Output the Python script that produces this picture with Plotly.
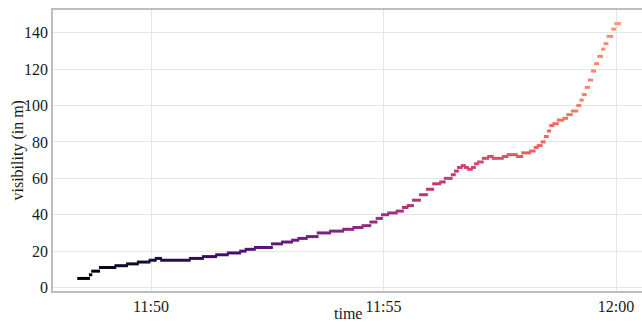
import pandas as pd
import plotly.graph_objects as go
from plotly.colors import sample_colorscale

# Visibility readings: each reading holds from start to end (seconds after 11:48:00)
start_s = [26, 41, 44, 54, 74, 89, 103, 118, 126, 133, 170, 187, 204, 219, 235, 242,
           254, 276, 289, 302, 310, 321, 335, 351, 368, 381, 393, 403, 411, 418, 426,
           437, 445, 451, 458, 467, 476, 484, 493, 499, 508, 512, 516, 521, 525, 529,
           534, 538, 542, 548, 555, 561, 574, 580, 592, 599, 609, 615, 619, 624, 628,
           632, 635, 639, 645, 652, 657, 663, 670, 674, 677, 681, 685, 689, 693, 697,
           702, 705, 709, 715, 719]
end_s = [40, 43, 53, 74, 89, 103, 118, 126, 133, 170, 187, 204, 219, 235, 242, 254,
         276, 289, 302, 310, 321, 335, 351, 368, 381, 393, 403, 411, 418, 426, 437,
         445, 451, 458, 467, 476, 484, 493, 499, 508, 512, 516, 521, 525, 529, 534,
         538, 542, 548, 555, 561, 574, 580, 592, 599, 609, 615, 619, 624, 628, 632,
         635, 639, 645, 652, 657, 663, 670, 674, 677, 681, 685, 689, 693, 697, 702,
         705, 709, 715, 719, 725]
visibility = [5, 7, 9, 11, 12, 13, 14, 15, 16, 15, 16, 17, 18, 19, 20, 21,
              22, 24, 25, 26, 27, 28, 30, 31, 32, 33, 34, 36, 38, 40, 41,
              42, 44, 45, 48, 51, 54, 57, 58, 60, 62, 64, 66, 67, 66, 65,
              66, 68, 69, 71, 72, 71, 72, 73, 72, 74, 75, 77, 78, 80, 83,
              86, 89, 90, 92, 93, 95, 97, 100, 103, 106, 110, 114, 119, 123, 127,
              131, 134, 138, 142, 145]

x_ticks = ["11:50", "11:55", "12:00"]
y_ticks = [0, 20, 40, 60, 80, 100, 120, 140]

base = pd.Timestamp("2021-01-01 11:48:00")
pad = 1.2  # seconds of visual padding on each end of a dash
t_start = [base + pd.Timedelta(seconds=s - pad) for s in start_s]
t_end = [base + pd.Timedelta(seconds=s + pad) for s in end_s]

# colour by time on the Magma scale (colour range extends past the last reading)
c_lo, c_hi = start_s[0], start_s[0] + (end_s[-1] - start_s[0]) / 0.78
fracs = [(((a + b) / 2) - c_lo) / (c_hi - c_lo) for a, b in zip(start_s, end_s)]
colors = sample_colorscale("Magma", fracs)

fig = go.Figure()
for x0, x1, v, c in zip(t_start, t_end, visibility, colors):
    fig.add_trace(go.Scatter(
        x=[x0, x1], y=[v, v], mode="lines",
        line=dict(color=c, width=3),
        showlegend=False, hoverinfo="skip",
    ))

tick_vals = [pd.Timestamp("2021-01-01 " + t) for t in x_ticks]
font = dict(family="Liberation Serif, Times New Roman, serif", size=16, color="#1a1a1a")
plot_w, plot_h = 589, 281

axis_style = dict(
    tickfont=font,
    showgrid=True, gridcolor="#e6e6e6", gridwidth=1,
    showline=True, linecolor="#bdbdbd", linewidth=1.5, mirror=True,
    zeroline=False, ticks="", automargin=False,
)

fig.update_layout(
    width=642, height=322,
    margin=dict(l=53, r=0, t=10, b=31),
    plot_bgcolor="white", paper_bgcolor="white",
    font=font,
    xaxis=dict(
        range=[base + pd.Timedelta(seconds=-6.5), base + pd.Timedelta(seconds=753.5)],
        tickvals=tick_vals, ticktext=x_ticks,
        **axis_style,
    ),
    yaxis=dict(
        range=[-1.9, 152.5],
        tickvals=y_ticks,
        **axis_style,
    ),
    annotations=[
        dict(text="visibility (in m)", textangle=-90, font=font,
             xref="paper", yref="paper", x=-36 / plot_w, y=0.5,
             xanchor="center", yanchor="middle", showarrow=False),
        dict(text="time", font=font,
             xref="paper", yref="paper", x=0.5, y=-22 / plot_h,
             xanchor="center", yanchor="middle", showarrow=False),
    ],
)

fig.write_html("out.html")
